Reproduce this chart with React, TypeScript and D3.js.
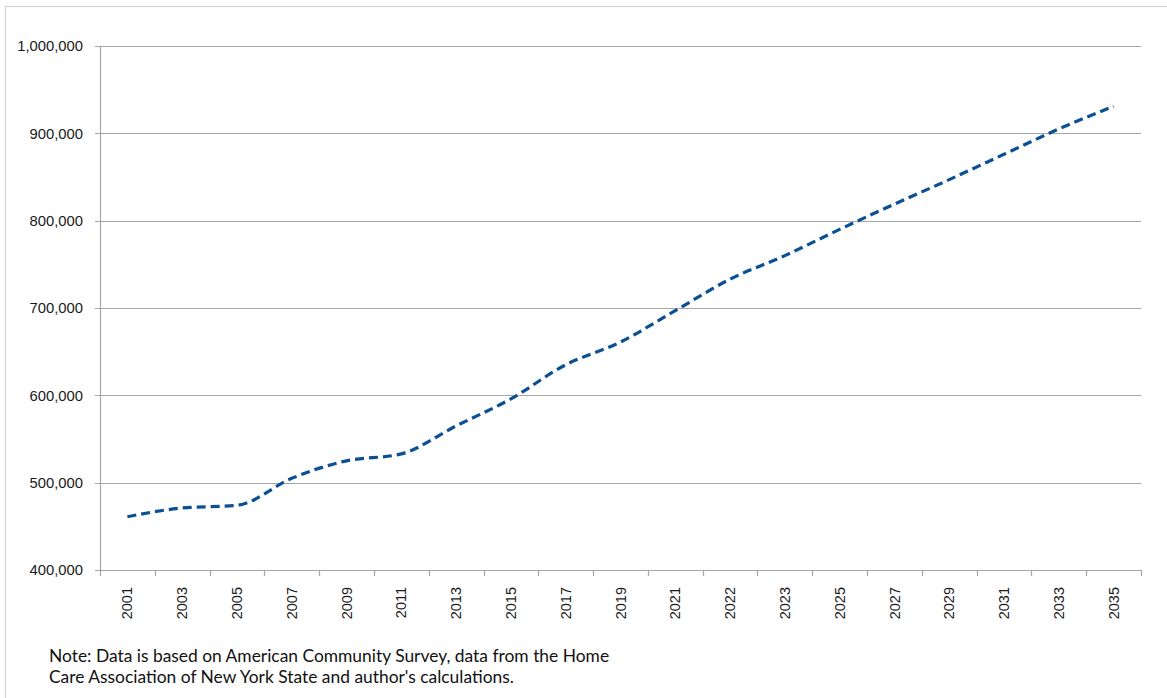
import React, { useEffect, useRef } from "react";
import * as d3 from "d3";

const years = ["2001","2003","2005","2007","2009","2011","2013","2015","2017","2019","2021","2022","2023","2025","2027","2029","2031","2033","2035"];
const values = [461000,471000,474000,505000,525000,533000,565000,596000,635000,661000,697000,733000,760000,790000,819000,847000,876000,905000,931000];
const yTicks = [400000,500000,600000,700000,800000,900000,1000000];
const noteLines = [
  "Note: Data is based on American Community Survey, data from the Home",
  "Care Association of New York State and author's calculations.",
];

const W = 1167, H = 698;
const left = 100, right = 1141, top = 46, bottom = 570;
const tickFont = "Liberation Sans, Arial, sans-serif";

export default function App() {
  const ref = useRef<SVGSVGElement>(null);
  useEffect(() => {
    const svg = d3.select(ref.current);
    svg.selectAll("*").remove();
    const x = d3.scaleBand().domain(years).range([left, right]).padding(0);
    const y = d3.scaleLinear().domain([400000, 1000000]).range([bottom, top]);
    const grey = "#a6a6a6";

    svg.append("path").attr("d", `M5.5,${H} V6.5 H${W}`).attr("fill", "none").attr("stroke", "#cfcfcf").attr("stroke-width", 1);

    svg.append("g").selectAll("line").data(yTicks).join("line")
      .attr("x1", left - 5).attr("x2", right)
      .attr("y1", d => Math.round(y(d)) + 0.5).attr("y2", d => Math.round(y(d)) + 0.5)
      .attr("stroke", grey).attr("stroke-width", 1.2);

    svg.append("line").attr("x1", left + 0.5).attr("x2", left + 0.5).attr("y1", top).attr("y2", bottom + 0.5)
      .attr("stroke", grey).attr("stroke-width", 1.2);

    const fmt = d3.format(",");
    svg.append("g").selectAll("text").data(yTicks).join("text")
      .attr("x", left - 17).attr("y", d => y(d)).attr("dy", "0.35em")
      .attr("text-anchor", "end").attr("font-family", tickFont)
      .attr("font-size", 14.8).attr("fill", "#1a1a1a").text(d => fmt(d));

    const bounds = years.map(d => x(d)!).concat([right]);
    svg.append("g").selectAll("line").data(bounds).join("line")
      .attr("x1", d => Math.round(d) + 0.5).attr("x2", d => Math.round(d) + 0.5)
      .attr("y1", bottom).attr("y2", bottom + 6)
      .attr("stroke", grey).attr("stroke-width", 1.2);

    svg.append("g").selectAll("text").data(years).join("text")
      .attr("transform", d => `translate(${x(d)! + x.bandwidth() / 2},${bottom + 17}) rotate(-90)`)
      .attr("dy", "0.35em").attr("text-anchor", "end")
      .attr("font-family", tickFont).attr("font-size", 14.5).attr("fill", "#1a1a1a")
      .text(d => d);

    const line = d3.line<number>()
      .x((_, i) => x(years[i])! + x.bandwidth() / 2)
      .y(d => y(d))
      .curve(d3.curveMonotoneX);
    svg.append("path").datum(values).attr("d", line)
      .attr("fill", "none").attr("stroke", "#0b4f94").attr("stroke-width", 3.2)
      .attr("stroke-dasharray", "9,5").attr("stroke-linecap", "butt");

    svg.append("g").selectAll("text").data(noteLines).join("text")
      .attr("x", 49).attr("y", (_, i) => 662 + i * 21)
      .attr("font-family", "Lato, Open Sans, sans-serif").attr("font-size", 17.4).attr("fill", "#111")
      .text(d => d);
  }, []);
  return (
    <div style={{ position: "absolute", left: 0, top: 0, width: W, height: H, background: "#fff" }}>
      <svg ref={ref} width={W} height={H} style={{ display: "block" }} />
    </div>
  );
}
